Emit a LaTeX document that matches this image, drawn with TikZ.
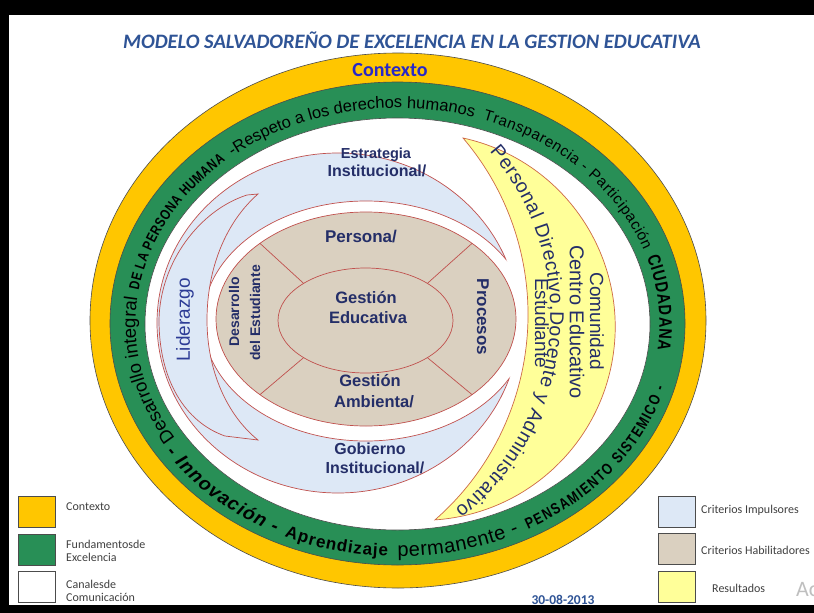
\documentclass[tikz,border=0pt]{standalone}
\usepackage{fontspec}
\setmainfont{Liberation Sans}
\newfontfamily\arialf{Liberation Sans}
\newfontfamily\arialn[FakeStretch=0.8]{Liberation Sans}
\newfontfamily\calib{Carlito}
\usetikzlibrary{decorations.text,calc}
\definecolor{ctxyellow}{RGB}{255,198,0}
\definecolor{fundgreen}{RGB}{40,143,86}
\definecolor{impblue}{RGB}{221,232,246}
\definecolor{habbeige}{RGB}{218,208,192}
\definecolor{resyellow}{RGB}{255,255,153}
\definecolor{redline}{RGB}{192,80,77}
\definecolor{navy}{RGB}{36,46,104}
\definecolor{lidblue}{RGB}{45,60,150}
\definecolor{titleblue}{RGB}{47,84,150}
\definecolor{ctxblue}{RGB}{40,40,200}
\definecolor{legtext}{RGB}{64,64,64}
\definecolor{crescline}{RGB}{205,105,70}
\tikzset{
  ring/.style={draw=black!70, line width=0.6pt},
  redl/.style={draw=redline, line width=0.7pt},
  navytxt/.style={text=navy, inner sep=0pt},
  legbox/.style={draw=black!70, line width=0.8pt, minimum width=37pt, minimum height=31pt, inner sep=0pt},
  legtxt/.style={text=legtext, font=\calib\fontsize{12}{13.5}\selectfont, anchor=west, align=left, inner sep=0pt},
}
\begin{document}
\begin{tikzpicture}[x=1pt,y=1pt]
\useasboundingbox (0,0) rectangle (814,-613);
% frame
\fill[black] (0,0) rectangle (814,-613);
\fill[white] (9,-15) rectangle (814,-605);
% rings
\filldraw[ring, fill=ctxyellow] (398,-320.5) ellipse[x radius=308, y radius=267.5];
\filldraw[ring, fill=fundgreen] (397.5,-323.5) ellipse[x radius=287.5, y radius=241.5];
\filldraw[ring, fill=white] (397.5,-324) ellipse[x radius=252.5, y radius=206];
% criterios impulsores ring
\filldraw[redl, fill=impblue] (338,-323) ellipse[x radius=181, y radius=170];
\fill[white] (366,-321) ellipse[x radius=163, y radius=120];
\begin{scope}
  \clip (338,-323) ellipse[x radius=181, y radius=170];
  \draw[redl] (366,-321) ellipse[x radius=163, y radius=120];
\end{scope}
% criterios habilitadores
\coordinate (hc) at (366,-319);
\coordinate (gc) at (365.5,-320.5);
\filldraw[redl, fill=habbeige] (hc) ellipse[x radius=150, y radius=107];
\filldraw[redl, fill=habbeige] (gc) ellipse[x radius=87.5, y radius=52.5];
\foreach \a in {45,135,-45,-135}{
  \coordinate (o\a) at ($(hc)+(\a:150 and 107)$);
  \coordinate (i\a) at ($(gc)+(\a:87.5 and 52.5)$);
  \draw[redl] (i\a) -- (o\a);
}
% liderazgo crescent
\filldraw[redl, fill=impblue] (258,-194) -- (247,-195)
  .. controls (200,-210) and (160,-262) .. (159,-320)
  .. controls (159,-380) and (185,-422) .. (225,-436) -- (258,-440)
  .. controls (228,-416) and (207,-372) .. (207,-320)
  .. controls (207,-268) and (226,-222) .. (258,-194) -- cycle;
% resultados crescent
\filldraw[draw=crescline, line width=0.7pt, fill=resyellow] (463,-138)
  arc[start angle=77.7, end angle=-86.1, radius=193.4]
  arc[start angle=-48.8, end angle=40.4, radius=272.7] -- cycle;

% title and context
\node[font=\calib\bfseries\itshape\fontsize{20.5}{20.5}\selectfont, text=titleblue] (title) at (412,-40) {MODELO SALVADOREÑO DE EXCELENCIA EN LA GESTION EDUCATIVA};
\node[font=\calib\bfseries\fontsize{20}{20}\selectfont, text=ctxblue] (ctx) at (390,-70) {Contexto};

% ring text (top, clockwise)
\coordinate (rc) at (397.5,-324);
\path[decorate, decoration={text along path, text align={fit to path},
  text={|\arialf\fontsize{18.5}{18.5}\selectfont|Desarrollo integral}}]
  ($(rc)+(212:262 and 216)$) arc[start angle=212, end angle=173, x radius=262, y radius=216];
\path[decorate, decoration={text along path, text align={fit to path},
  text={|\arialn\bfseries\fontsize{14.5}{14.5}\selectfont|DE LA PERSONA HUMANA}}]
  ($(rc)+(171:262 and 216)$) arc[start angle=171, end angle=131, x radius=262, y radius=216];
\path[decorate, decoration={text along path, text align={fit to path},
  text={|\arialf\fontsize{16.5}{16.5}\selectfont|-Respeto a los derechos humanos .}}]
  ($(rc)+(129:262 and 216)$) arc[start angle=129, end angle=73, x radius=262, y radius=216];
\path[decorate, decoration={text along path, text align={fit to path},
  text={|\arialf\fontsize{15.2}{15.2}\selectfont|Transparencia - Participación}}]
  ($(rc)+(71:262 and 216)$) arc[start angle=71, end angle=20, x radius=262, y radius=216];
\path[decorate, decoration={text along path, text align={fit to path},
  text={|\arialn\bfseries\fontsize{18}{18}\selectfont|CIUDADANA}}]
  ($(rc)+(18:262 and 216)$) arc[start angle=18, end angle=-7, x radius=262, y radius=216];
% ring text (bottom, counter-clockwise)
\path[decorate, decoration={text along path, text align={fit to path},
  text={|\arialf\bfseries\itshape\fontsize{19}{19}\selectfont|- Innovación -}}]
  ($(rc)+(213.5:278 and 232.5)$) arc[start angle=213.5, end angle=244, x radius=278, y radius=232.5];
\path[decorate, decoration={text along path, text align={fit to path},
  text={|\arialf\bfseries\fontsize{17}{17}\selectfont|Aprendizaje}}]
  ($(rc)+(246:278 and 232.5)$) arc[start angle=246, end angle=268, x radius=278, y radius=232.5];
\path[decorate, decoration={text along path, text align={fit to path},
  text={|\arialf\fontsize{20}{20}\selectfont|permanente -}}]
  ($(rc)+(270:278 and 232.5)$) arc[start angle=270, end angle=296, x radius=278, y radius=232.5];
\path[decorate, decoration={text along path, text align={fit to path},
  text={|\arialn\bfseries\fontsize{15.5}{15.5}\selectfont|PENSAMIENTO SISTEMICO -}}]
  ($(rc)+(298:278 and 232.5)$) arc[start angle=298, end angle=344, x radius=278, y radius=232.5];

% crescent curved text
\coordinate (cc) at (302.3,-314.3);
\path[decorate, decoration={text along path, text align={fit to path}, text color=navy,
  text={|\arialf\fontsize{19.5}{19.5}\selectfont|Personal Directivo,Docente y Administrativo}}]
  ($(cc)+(41:248)$) arc[start angle=41, end angle=-52, radius=248];
\node[navytxt, rotate=-90, font=\arialf\fontsize{19}{19}\selectfont] (com) at (597,-321) {Comunidad};
\node[navytxt, rotate=-90, font=\arialf\fontsize{20}{20}\selectfont] (cen) at (577,-322) {Centro Educativo};
\node[navytxt, rotate=-90, font=\arialf\fontsize{19}{19}\selectfont] (est) at (542,-323) {Estudiante};

% inner labels
\node[navytxt, font=\arialf\bfseries\fontsize{14.5}{14.5}\selectfont] (estr) at (376,-155) {Estrategia};
\node[navytxt, font=\arialf\bfseries\fontsize{16}{16}\selectfont] (inst1) at (377,-171) {Institucional/};
\node[navytxt, font=\arialf\bfseries\fontsize{17}{17}\selectfont] (pers) at (361,-237) {Persona/};
\node[navytxt, font=\arialf\bfseries\fontsize{16.5}{16.5}\selectfont] (ge1) at (366,-298) {Gestión};
\node[navytxt, font=\arialf\bfseries\fontsize{16.5}{16.5}\selectfont] (ge2) at (368,-318) {Educativa};
\node[navytxt, font=\arialf\bfseries\fontsize{16.5}{16.5}\selectfont] (ga1) at (370,-381) {Gestión};
\node[navytxt, font=\arialf\bfseries\fontsize{16.5}{16.5}\selectfont] (ga2) at (374,-402) {Ambienta/};
\node[navytxt, font=\arialf\bfseries\fontsize{16}{16}\selectfont] (gob) at (370,-449) {Gobierno};
\node[navytxt, font=\arialf\bfseries\fontsize{16}{16}\selectfont] (inst2) at (375,-468) {Institucional/};
\node[text=lidblue, inner sep=0pt, rotate=90, font=\arialf\fontsize{19}{19}\selectfont] (lid) at (185,-320) {Liderazgo};
\node[navytxt, rotate=90, font=\arialf\bfseries\fontsize{14}{14}\selectfont] (des1) at (234,-312) {Desarrollo};
\node[navytxt, rotate=90, font=\arialf\bfseries\fontsize{14}{14}\selectfont] (des2) at (255,-313) {del Estudiante};
\node[navytxt, rotate=-90, font=\arialf\bfseries\fontsize{17}{17}\selectfont] (proc) at (483,-317) {Procesos};

% legend
\node[legbox, fill=ctxyellow] (lg1) at (36.5,-512) {};
\node[legbox, fill=fundgreen] (lg2) at (36.5,-549.5) {};
\node[legbox, fill=white] (lg3) at (36.5,-586.5) {};
\node[legtxt] (lt1) at (66,-507) {Contexto};
\node[legtxt] (lt2) at (66,-551) {Fundamentosde\\Excelencia};
\node[legtxt] (lt3) at (66,-591) {Canalesde\\Comunicación};
\node[legbox, fill=impblue] (lg4) at (676.5,-511.5) {};
\node[legbox, fill=habbeige] (lg5) at (676.5,-549) {};
\node[legbox, fill=resyellow] (lg6) at (676.5,-586.5) {};
\node[legtxt] (lt4) at (701,-510) {Criterios Impulsores};
\node[legtxt] (lt5) at (701,-550) {Criterios Habilitadores};
\node[legtxt] (lt6) at (712,-588) {Resultados};
\node[font=\calib\bfseries\fontsize{13.5}{13.5}\selectfont, text=titleblue] (date) at (563,-600) {30-08-2013};
\node[font=\calib\fontsize{22}{22}\selectfont, text=black!25, anchor=west, inner sep=0pt] (wm) at (796,-590) {Ac};
\end{tikzpicture}
\end{document}
